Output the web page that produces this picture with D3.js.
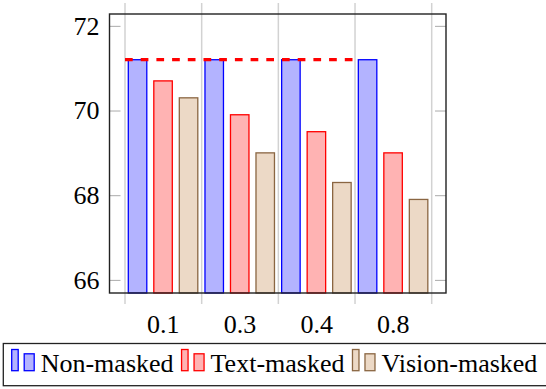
<!DOCTYPE html>
<html>
<head>
<meta charset="utf-8">
<script src="https://cdn.jsdelivr.net/npm/d3@7"></script>
</head>
<body style="margin:0; background:#fff">
<div id="chart"></div>
<script>
// values
const ratios = ["0.1", "0.3", "0.4", "0.8"];
const nonMasked = [71.2, 71.2, 71.2, 71.2];
const textMasked = [70.7, 69.9, 69.5, 69.0];
const visionMasked = [70.3, 69.0, 68.3, 67.9];
const yTicks = [66, 68, 70, 72];
const refLine = 71.2;

const seriesNames = ["Non-masked", "Text-masked", "Vision-masked"];
const seriesData = [nonMasked, textMasked, visionMasked];
const fills = ["#b3b3ff", "#ffb3b3", "#ecd9c6"];
const strokes = ["#0000ff", "#ff0000", "#8a6642"];

const FONT = "'Liberation Serif'";
const width = 546, height = 389;
const box = { left: 109.5, right: 446, top: 14, bottom: 293 };

const svg = d3.select("#chart").append("svg")
  .attr("width", width)
  .attr("height", height)
  .style("display", "block")
  .attr("font-family", FONT);

var x = d3.scaleBand().domain(ratios).range([125, 431.7]).padding(0);
var x1 = d3.scaleBand().domain(seriesNames)
  .range([3.3, 72.8]).paddingInner(0.275).paddingOuter(0);
var y = d3.scaleLinear().domain([65.69, 72.28]).range([box.bottom, box.top]);

// vertical grid lines at group edges, sticking out of the box
var edges = ratios.map(r => x(r)).concat([x.range()[1]]);
svg.append("g").selectAll("line").data(edges).enter().append("line")
  .attr("x1", d => d).attr("x2", d => d)
  .attr("y1", 3).attr("y2", 304)
  .attr("stroke", "#d2d2d2").attr("stroke-width", 1.5);

// y ticks on both sides
var yAxisL = d3.axisLeft(y).tickValues(yTicks).tickFormat(d3.format("d"))
  .tickSizeInner(-11).tickSizeOuter(0).tickPadding(10);
var gl = svg.append("g").attr("transform", "translate(" + box.left + ",0)").call(yAxisL);
gl.attr("font-family", FONT).attr("font-size", 26);
gl.select(".domain").remove();
gl.selectAll(".tick line").attr("stroke", "#aaa").attr("stroke-width", 1);
gl.selectAll(".tick text").attr("font-family", FONT).attr("font-size", 26).attr("fill", "#000");

var yAxisR = d3.axisRight(y).tickValues(yTicks).tickSizeInner(-11).tickSizeOuter(0).tickFormat("");
var gr = svg.append("g").attr("transform", "translate(" + box.right + ",0)").call(yAxisR);
gr.select(".domain").remove();
gr.selectAll(".tick line").attr("stroke", "#aaa").attr("stroke-width", 1);

// bars
var rows = [];
ratios.forEach((r, i) => {
  seriesNames.forEach((s, j) => {
    rows.push({ ratio: r, series: s, k: j, value: seriesData[j][i] });
  });
});

svg.append("g").selectAll("rect").data(rows).enter().append("rect")
  .attr("x", d => x(d.ratio) + x1(d.series))
  .attr("width", x1.bandwidth())
  .attr("y", d => y(d.value))
  .attr("height", d => box.bottom - y(d.value))
  .attr("fill", d => fills[d.k])
  .attr("stroke", d => strokes[d.k])
  .attr("stroke-width", 1.3);

// dashed reference line
svg.append("line")
  .attr("x1", x(ratios[0])).attr("x2", x(ratios[3]))
  .attr("y1", y(refLine)).attr("y2", y(refLine))
  .attr("stroke", "#ff0000").attr("stroke-width", 3.3)
  .attr("stroke-dasharray", "7.7,8");

// axis frame
svg.append("rect")
  .attr("x", box.left).attr("y", box.top)
  .attr("width", box.right - box.left).attr("height", box.bottom - box.top)
  .attr("fill", "none").attr("stroke", "#222").attr("stroke-width", 1.4);

// x labels
svg.append("g").selectAll("text").data(ratios).enter().append("text")
  .attr("x", d => x(d) + x.bandwidth() / 2)
  .attr("y", 332.5)
  .attr("text-anchor", "middle")
  .attr("font-family", FONT)
  .attr("font-size", 26)
  .text(d => d);

// legend
var legend = svg.append("g");
legend.append("rect")
  .attr("x", 3.3).attr("y", 343.5)
  .attr("width", 560).attr("height", 42.2)
  .attr("fill", "#fff").attr("stroke", "#222").attr("stroke-width", 1.3);

var lx = 11.7;
seriesNames.forEach((s, j) => {
  var item = legend.append("g");
  item.append("rect")
    .attr("x", lx).attr("y", 349.5).attr("width", 6.5).attr("height", 21.2)
    .attr("fill", fills[j]).attr("stroke", strokes[j]).attr("stroke-width", 1.3);
  item.append("rect")
    .attr("x", lx + 12.5).attr("y", 353.8).attr("width", 10).attr("height", 16.9)
    .attr("fill", fills[j]).attr("stroke", strokes[j]).attr("stroke-width", 1.3);
  var t = item.append("text")
    .attr("x", lx + 29).attr("y", 371.7)
    .attr("font-family", FONT)
    .attr("font-size", 26)
    .text(s);
  lx = lx + 29 + t.node().getComputedTextLength() + 8;
});
</script>
</body>
</html>
